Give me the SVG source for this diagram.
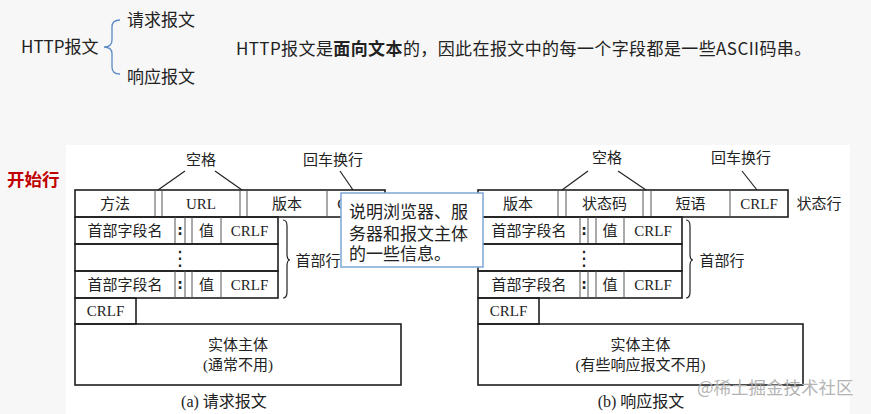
<svg xmlns="http://www.w3.org/2000/svg" width="871" height="414" viewBox="0 0 871 414">
<style>
.t{font-family:"Liberation Serif","Noto Sans CJK SC",serif;font-size:15px;fill:#222;text-anchor:middle}
.c{font-family:"Liberation Serif","Noto Sans CJK SC",serif;font-size:16px;fill:#222;text-anchor:middle}
.s{font-family:"Noto Sans CJK SC","Liberation Sans",sans-serif;font-size:17px;fill:#222}
.box{fill:none;stroke:#1e1e1e;stroke-width:1.6}
.sep{stroke:#555;stroke-width:1}
.ln{fill:none;stroke:#222;stroke-width:1.2}
.dot{font-family:"DejaVu Sans",sans-serif;font-size:20px;fill:#222;text-anchor:middle}
.col{font-family:"DejaVu Sans",sans-serif;font-size:14px;font-weight:bold;fill:#222;text-anchor:middle}
</style>
<rect width="871" height="414" fill="#f7f7f7"/>
<rect x="66" y="145" width="784" height="269" fill="#ffffff"/>

<g id="top">
<text class="s" x="21" y="53">HTTP报文</text>
<text class="s" x="127" y="26">请求报文</text>
<text class="s" x="127" y="83">响应报文</text>
<text class="s" x="236" y="55" letter-spacing="0.4">HTTP报文是<tspan font-weight="bold">面向文本</tspan>的，因此在报文中的每一个字段都是一些ASCII码串。</text>
</g>

<g id="start-label">
<text x="7" y="186" font-family="Noto Sans CJK SC,sans-serif" font-size="17.5" font-weight="bold" fill="#c00000">开始行</text>
</g>

<g id="connectors">
<path d="M120,20 Q112,20 112,27 L112,40 Q112,47 104,47 Q112,47 112,54 L112,67 Q112,74 120,74" fill="none" stroke="#5b8bc6" stroke-width="1.3"/>
<line class="ln" x1="185" y1="171" x2="158" y2="190"/>
<line class="ln" x1="215" y1="171" x2="242" y2="190"/>
<line class="ln" x1="340" y1="171" x2="353" y2="190"/>
<line class="ln" x1="588" y1="171" x2="562" y2="190"/>
<line class="ln" x1="618" y1="171" x2="646" y2="190"/>
<line class="ln" x1="742" y1="171" x2="757" y2="190"/>
<path class="ln" d="M283,220 Q287,220 287,226 L287,254 Q287,260 290,260 Q287,260 287,266 L287,292 Q287,298 283,298"/>
<path class="ln" d="M686,220 Q690,220 690,226 L690,254 Q690,260 693,260 Q690,260 690,266 L690,292 Q690,298 686,298"/>
</g>

<g id="request">
<text class="t" x="201" y="165">空格</text>
<text class="t" x="333" y="165">回车换行</text>
<rect class="box" x="75" y="190" width="310" height="27"/>
<line class="sep" x1="155" y1="190" x2="155" y2="217"/>
<line class="sep" x1="162" y1="190" x2="162" y2="217"/>
<line class="sep" x1="240" y1="190" x2="240" y2="217"/>
<line class="sep" x1="247" y1="190" x2="247" y2="217"/>
<line class="sep" x1="327" y1="190" x2="327" y2="217"/>
<text class="t" x="115" y="209">方法</text>
<text class="t" x="201" y="209">URL</text>
<text class="t" x="287" y="209">版本</text>
<text class="t" x="356" y="209">CRLF</text>

<rect class="box" x="75" y="217" width="203" height="27"/>
<line class="sep" x1="175" y1="217" x2="175" y2="244"/>
<line class="sep" x1="185" y1="217" x2="185" y2="244"/>
<line class="sep" x1="192" y1="217" x2="192" y2="244"/>
<line class="sep" x1="221" y1="217" x2="221" y2="244"/>
<text class="t" x="125" y="236">首部字段名</text>
<text class="col" x="180" y="235">:</text>
<text class="t" x="206.5" y="236">值</text>
<text class="t" x="249.5" y="236">CRLF</text>

<rect class="box" x="75" y="244" width="203" height="27"/>
<text class="dot" x="180" y="265">⋮</text>

<rect class="box" x="75" y="271" width="203" height="27"/>
<line class="sep" x1="175" y1="271" x2="175" y2="298"/>
<line class="sep" x1="185" y1="271" x2="185" y2="298"/>
<line class="sep" x1="192" y1="271" x2="192" y2="298"/>
<line class="sep" x1="221" y1="271" x2="221" y2="298"/>
<text class="t" x="125" y="290">首部字段名</text>
<text class="col" x="180" y="289">:</text>
<text class="t" x="206.5" y="290">值</text>
<text class="t" x="249.5" y="290">CRLF</text>

<rect class="box" x="75" y="298" width="61" height="26"/>
<text class="t" x="105.5" y="316">CRLF</text>
<text class="t" x="318" y="266">首部行</text>

<rect class="box" x="75" y="324" width="326" height="61"/>
<text class="t" x="238" y="350">实体主体</text>
<text class="t" x="238" y="370">(通常不用)</text>
<text class="c" x="224" y="407">(a) 请求报文</text>
</g>

<g id="response">
<text class="t" x="607" y="163">空格</text>
<text class="t" x="741" y="163">回车换行</text>
<rect class="box" x="478" y="190" width="310" height="27"/>
<line class="sep" x1="558" y1="190" x2="558" y2="217"/>
<line class="sep" x1="566" y1="190" x2="566" y2="217"/>
<line class="sep" x1="643" y1="190" x2="643" y2="217"/>
<line class="sep" x1="651" y1="190" x2="651" y2="217"/>
<line class="sep" x1="730" y1="190" x2="730" y2="217"/>
<text class="t" x="518" y="209">版本</text>
<text class="t" x="604.5" y="209">状态码</text>
<text class="t" x="690.5" y="209">短语</text>
<text class="t" x="759" y="209">CRLF</text>
<text class="t" x="819" y="209">状态行</text>

<rect class="box" x="478" y="217" width="204" height="27"/>
<line class="sep" x1="580" y1="217" x2="580" y2="244"/>
<line class="sep" x1="588" y1="217" x2="588" y2="244"/>
<line class="sep" x1="596" y1="217" x2="596" y2="244"/>
<line class="sep" x1="624" y1="217" x2="624" y2="244"/>
<text class="t" x="529" y="236">首部字段名</text>
<text class="col" x="584" y="235">:</text>
<text class="t" x="610" y="236">值</text>
<text class="t" x="653" y="236">CRLF</text>

<rect class="box" x="478" y="244" width="204" height="27"/>
<text class="dot" x="584" y="265">⋮</text>

<rect class="box" x="478" y="271" width="204" height="27"/>
<line class="sep" x1="580" y1="271" x2="580" y2="298"/>
<line class="sep" x1="588" y1="271" x2="588" y2="298"/>
<line class="sep" x1="596" y1="271" x2="596" y2="298"/>
<line class="sep" x1="624" y1="271" x2="624" y2="298"/>
<text class="t" x="529" y="290">首部字段名</text>
<text class="col" x="584" y="289">:</text>
<text class="t" x="610" y="290">值</text>
<text class="t" x="653" y="290">CRLF</text>

<rect class="box" x="478" y="298" width="61" height="26"/>
<text class="t" x="508.5" y="316">CRLF</text>
<text class="t" x="722" y="266">首部行</text>

<rect class="box" x="478" y="324" width="325" height="61"/>
<text class="t" x="640.5" y="350">实体主体</text>
<text class="t" x="640.5" y="370">(有些响应报文不用)</text>
<text class="c" x="641" y="407">(b) 响应报文</text>
</g>

<g id="callout">
<rect x="341" y="193" width="142" height="74" fill="#ffffff" stroke="#7ea6d3" stroke-width="1.5"/>
<text class="s" x="349" y="218" font-size="17.5">说明浏览器、服</text>
<text class="s" x="349" y="239.5" font-size="17.5">务器和报文主体</text>
<text class="s" x="349" y="260" font-size="17.5">的一些信息。</text>
</g>

<g id="watermark">
<text x="697" y="394" font-family="Noto Sans CJK SC,sans-serif" font-size="17.5" fill="#b4b4b4">@稀土掘金技术社区</text>
</g>
</svg>
